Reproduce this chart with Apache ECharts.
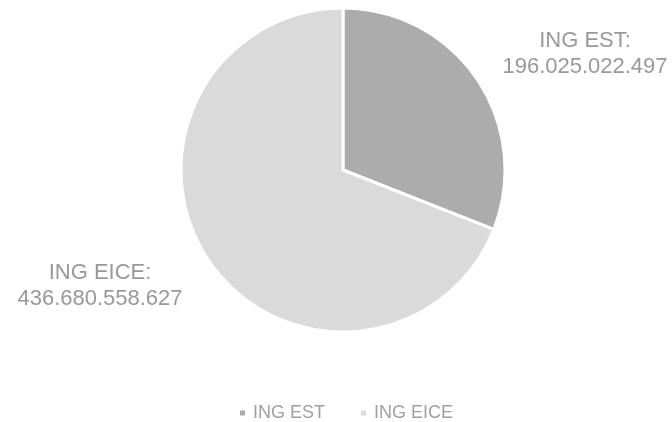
<!DOCTYPE html>
<html>
<head>
<meta charset="utf-8">
<script src="https://cdn.jsdelivr.net/npm/echarts@6/dist/echarts.min.js"></script>
<style>
  html, body { margin: 0; padding: 0; background: #fff; }
  #chart { width: 672px; height: 422px; }
</style>
</head>
<body>
<div id="chart"></div>
<script>
const categories = ['ING EST', 'ING EICE']
const values = [196025022497, 436680558627]
const sliceColors = ['#acacac', '#dadada']

// 196025022497 -> 196.025.022.497
const fmt = v => String(v).replace(/\B(?=(\d{3})+(?!\d))/g, '.')

const chart = echarts.init(document.getElementById('chart'))

chart.setOption({
  backgroundColor: '#fff',
  animation: false,
  legend: {
    top: 399,
    left: 233,
    itemWidth: 7,
    itemHeight: 7,
    itemGap: 34,
    icon: 'rect',
    textStyle: { fontFamily: 'Liberation Sans', fontSize: 18, color: '#a0a0a0', padding: [0, 0, 0, 2] },
    data: categories,
  },
  series: [{
    type: 'pie',
    center: [343, 170],
    radius: 162,
    startAngle: 90,
    clockwise: true,
    itemStyle: { borderColor: '#fff', borderWidth: 3 },
    labelLine: { show: false },
    label: {
      show: true,
      position: 'outside',
      formatter: p => p.name + ':\n' + fmt(p.value),
      fontFamily: 'Liberation Sans',
      fontSize: 22,
      lineHeight: 26,
      color: '#999',
      align: 'center',
      overflow: 'none',
      width: 220,
    },
    labelLayout: p => p.dataIndex === 0
      ? { x: 585, y: 54, align: 'center', verticalAlign: 'middle' }
      : { x: 100, y: 286, align: 'center', verticalAlign: 'middle' },
    data: categories.map((name, i) => ({
      name,
      value: values[i],
      itemStyle: { color: sliceColors[i] },
    })),
  }],
})
</script>
</body>
</html>
